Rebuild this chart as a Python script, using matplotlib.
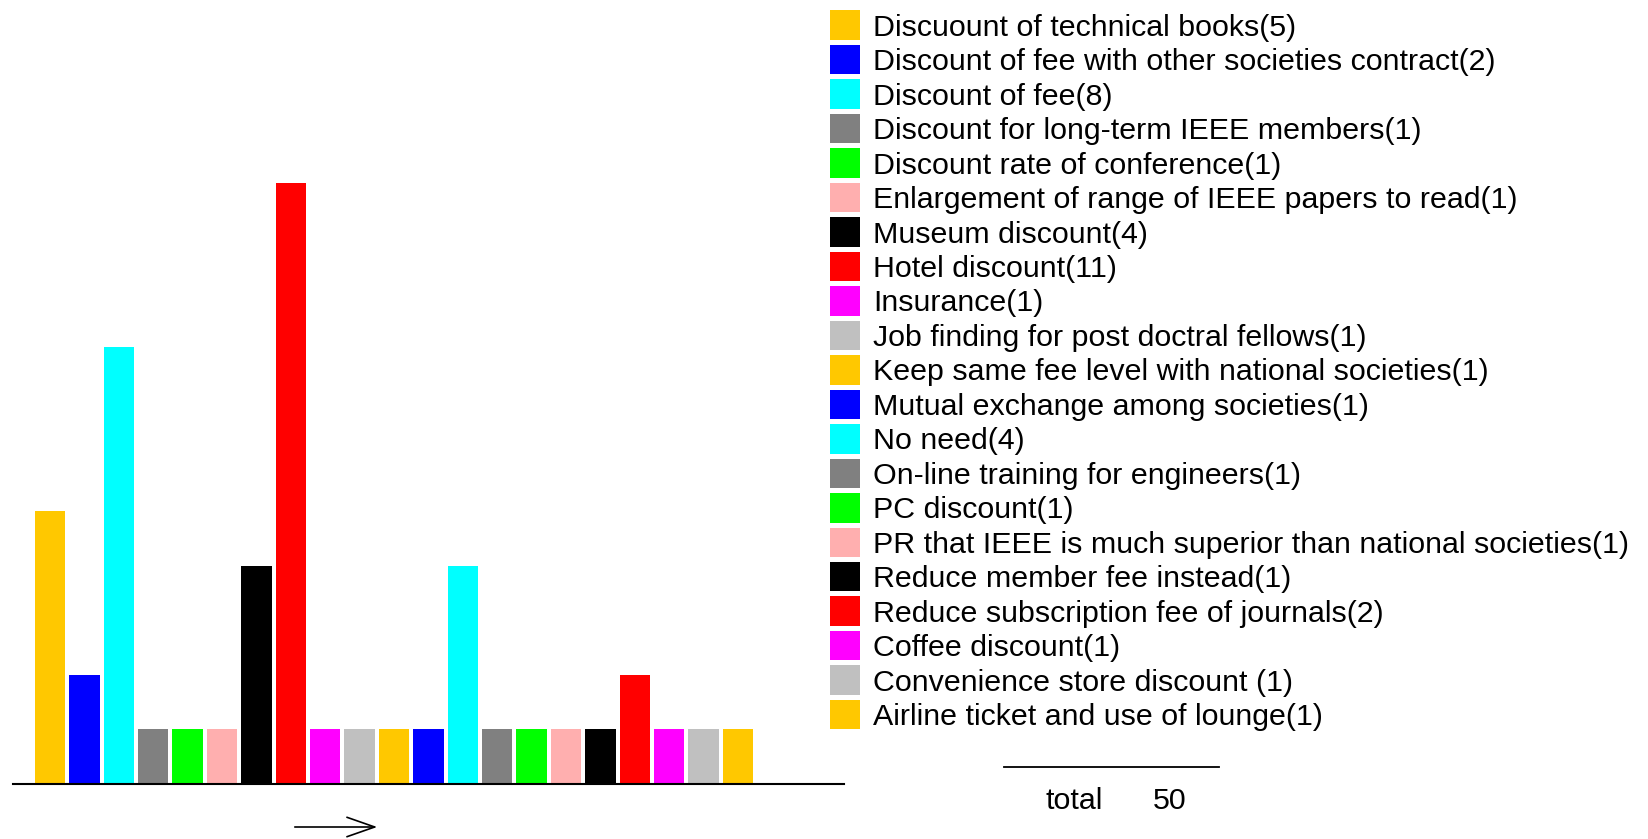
import matplotlib
matplotlib.use("Agg")
import matplotlib.pyplot as plt
from matplotlib.patches import Rectangle, FancyArrowPatch

categories = [
    "Discuount of technical books",
    "Discount of fee with other societies contract",
    "Discount of fee",
    "Discount for long-term IEEE members",
    "Discount rate of conference",
    "Enlargement of range of IEEE papers to read",
    "Museum discount",
    "Hotel discount",
    "Insurance",
    "Job finding for post doctral fellows",
    "Keep same fee level with national societies",
    "Mutual exchange among societies",
    "No need",
    "On-line training for engineers",
    "PC discount",
    "PR that IEEE is much superior than national societies",
    "Reduce member fee instead",
    "Reduce subscription fee of journals",
    "Coffee discount",
    "Convenience store discount ",
    "Airline ticket and use of lounge",
]
values = [5, 2, 8, 1, 1, 1, 4, 11, 1, 1, 1, 1, 4, 1, 1, 1, 1, 2, 1, 1, 1]
palette = ["#FFC800", "#0000FF", "#00FFFF", "#808080", "#00FF00",
           "#FFAFAF", "#000000", "#FF0000", "#FF00FF", "#C0C0C0"]
colors = [palette[i % len(palette)] for i in range(len(values))]
total_label = "total"
total_value = sum(values)

W, H = 1648, 839
fig = plt.figure(figsize=(W / 100, H / 100), dpi=100)
fig.patch.set_facecolor("white")

def fx(x):
    return x / W

def fy(y):
    return 1 - y / H

# ---- bar chart axes ----
ax_left, ax_right, ax_base = 12.6, 844.0, 784.0
unit_px = 54.6
pitch = 34.4
first_center = 49.95
ax = fig.add_axes([fx(ax_left), fy(ax_base), fx(ax_right) - fx(ax_left), fy(0) - fy(ax_base)])
xs = list(range(len(values)))
ax.bar(xs, values, width=30.5 / pitch, color=colors, edgecolor="none")
ax.set_xlim(-(first_center - ax_left) / pitch, (ax_right - first_center) / pitch)
ax.set_ylim(0, ax_base / unit_px)
for s in ["top", "left", "right"]:
    ax.spines[s].set_visible(False)
ax.spines["bottom"].set_linewidth(1.5)
ax.set_xticks([])
ax.set_yticks([])
ax.patch.set_visible(False)

# ---- overlay axes in pixel coordinates ----
lax = fig.add_axes([0, 0, 1, 1])
lax.set_xlim(0, W)
lax.set_ylim(H, 0)
lax.axis("off")
lax.patch.set_visible(False)

labels = [f"{c}({v})" for c, v in zip(categories, values)]
row0, row_pitch = 25.2, 34.47
patch_x0, patch_w, patch_h = 830, 30, 29.5
text_x = 873
text_dy = 2.5
target_width = 756

fig.canvas.draw()
renderer = fig.canvas.get_renderer()
t = lax.text(0, 0, "PR that IEEE is much superior than national societies(1)",
             fontsize=18, family="Liberation Sans")
w = t.get_window_extent(renderer).width
t.remove()
fs = 18 * target_width / w

for i, (lab, col) in enumerate(zip(labels, colors)):
    yc = row0 + i * row_pitch
    lax.add_patch(Rectangle((patch_x0, yc - patch_h / 2), patch_w, patch_h,
                            facecolor=col, edgecolor="none"))
    lax.text(text_x, yc + text_dy, lab, fontsize=fs, family="Liberation Sans",
             va="center", ha="left", color="black")

# total line and text
lax.plot([1004, 1219], [767, 767], color="black", lw=1.3)
lax.text(1046, 801, total_label, fontsize=fs, family="Liberation Sans",
         va="center", ha="left")
lax.text(1153, 801, str(total_value), fontsize=fs, family="Liberation Sans",
         va="center", ha="left")

# arrow below the bars
arr = FancyArrowPatch((292, 827), (380, 827), transform=lax.transData,
                      arrowstyle="->,head_length=20,head_width=7",
                      mutation_scale=1, lw=1.2, color="black")
lax.add_patch(arr)

fig.savefig("out.png", dpi=100, facecolor="white")
